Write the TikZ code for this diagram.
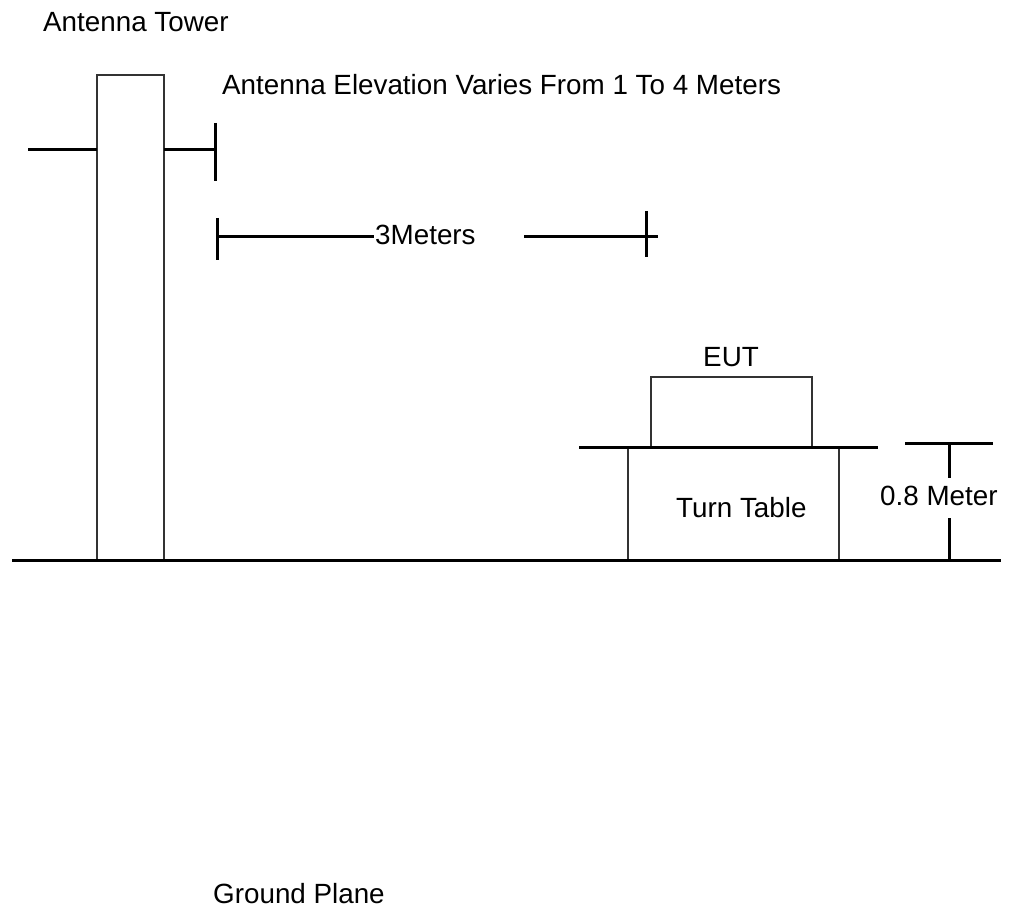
\documentclass[tikz,border=0pt]{standalone}
\usepackage{fontspec}
\setmainfont{Liberation Sans}
\begin{document}
\begin{tikzpicture}[x=1pt,y=-1pt,
  thickline/.style={line width=3pt,black},
  thinline/.style={line width=1.3pt,black!80},
  lbl/.style={inner sep=0pt,font=\fontsize{27.8}{33}\selectfont}]
\useasboundingbox (0,0) rectangle (1014,909);
% tower
\draw[thinline] (97,560) -- (97,75) -- (164,75) -- (164,560);
% antenna arms
\draw[thickline] (28,150) -- (97,150);
\draw[thickline] (164,150) -- (215,150);
\draw[thickline] (215,123) -- (215,181);
% 3 meters dimension
\draw[thickline] (217,218) -- (217,260);
\draw[thickline] (217,237) -- (374,237);
\draw[thickline] (524,237) -- (658,237);
\draw[thickline] (646,211) -- (646,257);
% EUT box
\draw[thinline] (651,447) -- (651,377) -- (812,377) -- (812,447);
% table
\draw[thinline] (628,447) -- (628,560);
\draw[thinline] (839,447) -- (839,560);
\draw[thickline] (579,447) -- (878,447);
% ground
\draw[thickline] (12,560) -- (1001,560);
% 0.8 meter
\draw[thickline] (905,443) -- (993,443);
\draw[thickline] (949,443) -- (949,478);
\draw[thickline] (949,518) -- (949,560);
% labels
\node[lbl,anchor=base west] (tower) at (43,32) {Antenna Tower};
\node[lbl,anchor=base west] (elev) at (222,95) {Antenna Elevation Varies From 1 To 4 Meters};
\node[lbl,anchor=base west] (three) at (375,245) {3Meters};
\node[lbl,anchor=base] (eut) at (731,366) {EUT};
\node[lbl,anchor=base west] (tt) at (676,517) {Turn Table};
\node[lbl,anchor=base west] (h) at (880,505) {0.8 Meter};
\node[lbl,anchor=base west] (gp) at (213,903) {Ground Plane};
\end{tikzpicture}
\end{document}
